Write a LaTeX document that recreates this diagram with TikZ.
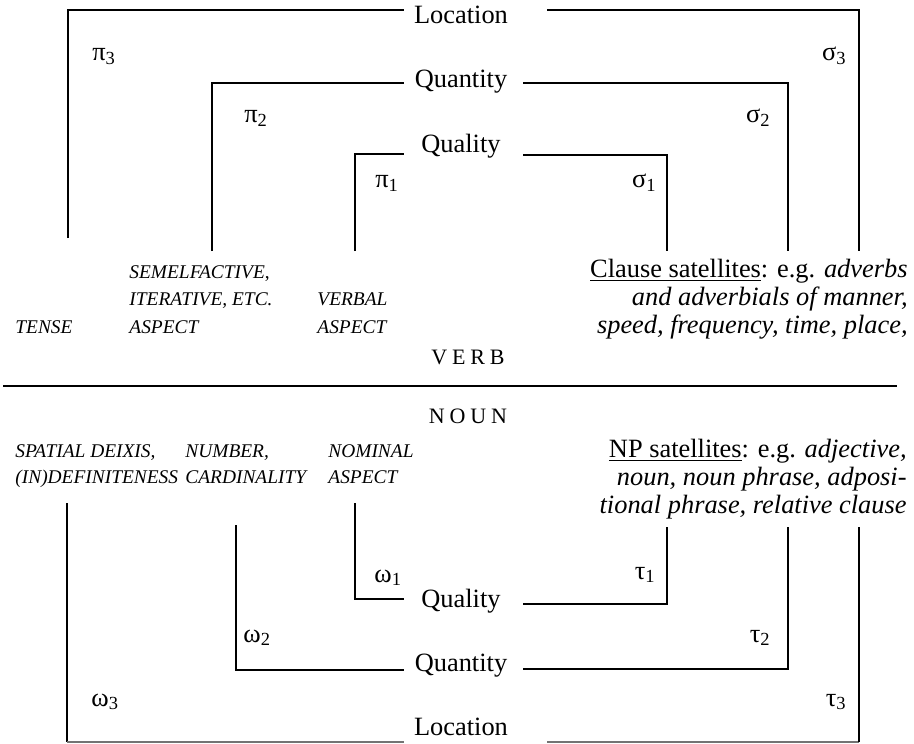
\documentclass[tikz,border=0pt]{standalone}
\usepackage{fontspec}
\setmainfont{Liberation Serif}
\begin{document}
\begin{tikzpicture}[x=0.5pt,y=-0.5pt,
  rule/.style={line width=1pt, black},
  faint/.style={line width=1pt, black!55},
  big/.style={inner sep=0pt, font=\fontsize{13.2}{16}\selectfont},
  caps/.style={inner sep=0pt, font=\fontsize{11}{13}\selectfont},
  smallit/.style={inner sep=0pt, font=\fontsize{9.7}{12}\selectfont\itshape},
  greek/.style={inner sep=0pt, font=\fontsize{13.2}{16}\selectfont}]
\useasboundingbox (0,0) rectangle (914,743);

% ---------- upper (verb) half ----------
\node[big, anchor=base] (locT) at (461,24) {Location};
\node[big, anchor=base] (quaT) at (461,88) {Quantity};
\node[big, anchor=base] (qalT) at (461,153) {Quality};

\coordinate (L1a) at (68,238);  \coordinate (L1b) at (68,10);  \coordinate (L1c) at (404,10);
\coordinate (L1d) at (547,10);  \coordinate (L1e) at (859,10); \coordinate (L1f) at (859,251);
\coordinate (Q1a) at (212,251); \coordinate (Q1b) at (212,83); \coordinate (Q1c) at (404,83);
\coordinate (Q1d) at (523,83);  \coordinate (Q1e) at (788,83); \coordinate (Q1f) at (788,251);
\coordinate (U1a) at (355,251); \coordinate (U1b) at (355,154); \coordinate (U1c) at (404,154);
\coordinate (U1d) at (523,155); \coordinate (U1e) at (667,155); \coordinate (U1f) at (667,251);

\draw[rule] (L1a) -- (L1b) -- (L1c);
\draw[rule] (L1d) -- (L1e) -- (L1f);
\draw[rule] (Q1a) -- (Q1b) -- (Q1c);
\draw[rule] (Q1d) -- (Q1e) -- (Q1f);
\draw[rule] (U1a) -- (U1b) -- (U1c);
\draw[rule] (U1d) -- (U1e) -- (U1f);

\node[greek, anchor=base west] (pi3) at (92,61)  {π\textsubscript{3}};
\node[greek, anchor=base west] (pi2) at (244,123) {π\textsubscript{2}};
\node[greek, anchor=base west] (pi1) at (375,188) {π\textsubscript{1}};
\node[greek, anchor=base east] (sg3) at (847,61)  {σ\textsubscript{3}};
\node[greek, anchor=base east] (sg2) at (771,123) {σ\textsubscript{2}};
\node[greek, anchor=base east] (sg1) at (657,188) {σ\textsubscript{1}};

\node[smallit, anchor=base west] (semA) at (129,278) {SEMELFACTIVE\textup{,}};
\node[smallit, anchor=base west] (semB) at (129,305) {ITERATIVE, ETC.};
\node[smallit, anchor=base west] (semC) at (129,333) {ASPECT};
\node[smallit, anchor=base west] (tense) at (15,333) {TENSE};
\node[smallit, anchor=base west] (verA) at (317,305) {VERBAL};
\node[smallit, anchor=base west] (verB) at (317,333) {ASPECT};

\node[big, anchor=base east] (clA) at (908,277) {\underline{Clause satellites}: e.g. \textit{adverbs}};
\node[big, anchor=base east] (clB) at (908,305) {\textit{and adverbials of manner,}};
\node[big, anchor=base east] (clC) at (908,333) {\textit{speed, frequency, time, place,}};

\node[caps, anchor=base] (verb) at (468,364) {V\hspace{0.22em}E\hspace{0.22em}R\hspace{0.22em}B};

% ---------- dividing rule ----------
\coordinate (divL) at (3,386); \coordinate (divR) at (897,386);
\draw[rule] (divL) -- (divR);

% ---------- lower (noun) half ----------
\node[caps, anchor=base] (noun) at (468,423) {N\hspace{0.22em}O\hspace{0.22em}U\hspace{0.22em}N};

\node[smallit, anchor=base west] (spA) at (15,457) {SPATIAL DEIXIS,};
\node[smallit, anchor=base west] (spB) at (15,483) {(IN)DEFINITENESS};
\node[smallit, anchor=base west] (nuA) at (185,457) {NUMBER,};
\node[smallit, anchor=base west] (nuB) at (185,483) {CARDINALITY};
\node[smallit, anchor=base west] (noA) at (328,457) {NOMINAL};
\node[smallit, anchor=base west] (noB) at (328,483) {ASPECT};

\node[big, anchor=base east] (npA) at (907,457) {\underline{NP satellites}: e.g. \textit{adjective,}};
\node[big, anchor=base east] (npB) at (907,485) {\textit{noun, noun phrase, adposi-}};
\node[big, anchor=base east] (npC) at (907,513) {\textit{tional phrase, relative clause}};

\node[big, anchor=base] (qalB) at (461,607) {Quality};
\node[big, anchor=base] (quaB) at (461,671) {Quantity};
\node[big, anchor=base] (locB) at (461,735) {Location};

\coordinate (U2a) at (355,503); \coordinate (U2b) at (355,599); \coordinate (U2c) at (404,599);
\coordinate (U2d) at (523,604); \coordinate (U2e) at (667,604); \coordinate (U2f) at (667,527);
\coordinate (Q2a) at (236,525); \coordinate (Q2b) at (236,670); \coordinate (Q2c) at (404,670);
\coordinate (Q2d) at (523,669); \coordinate (Q2e) at (788,669); \coordinate (Q2f) at (788,527);
\coordinate (L2a) at (67,503);  \coordinate (L2b) at (67,742);  \coordinate (L2c) at (404,742);
\coordinate (L2d) at (547,742); \coordinate (L2e) at (859,742); \coordinate (L2f) at (859,527);

\draw[rule] (U2a) -- (U2b) -- (U2c);
\draw[rule] (U2d) -- (U2e) -- (U2f);
\draw[rule] (Q2a) -- (Q2b) -- (Q2c);
\draw[rule] (Q2d) -- (Q2e) -- (Q2f);
\draw[rule] (L2a) -- (L2b);
\draw[faint] (L2b) -- (L2c);
\draw[faint] (L2d) -- (L2e);
\draw[rule] (L2e) -- (L2f);

\node[greek, anchor=base west] (om1) at (374,582) {ω\textsubscript{1}};
\node[greek, anchor=base west] (om2) at (243,642) {ω\textsubscript{2}};
\node[greek, anchor=base west] (om3) at (91,706)  {ω\textsubscript{3}};
\node[greek, anchor=base east] (ta1) at (656,579) {τ\textsubscript{1}};
\node[greek, anchor=base east] (ta2) at (771,642) {τ\textsubscript{2}};
\node[greek, anchor=base east] (ta3) at (847,706) {τ\textsubscript{3}};
\end{tikzpicture}
\end{document}
